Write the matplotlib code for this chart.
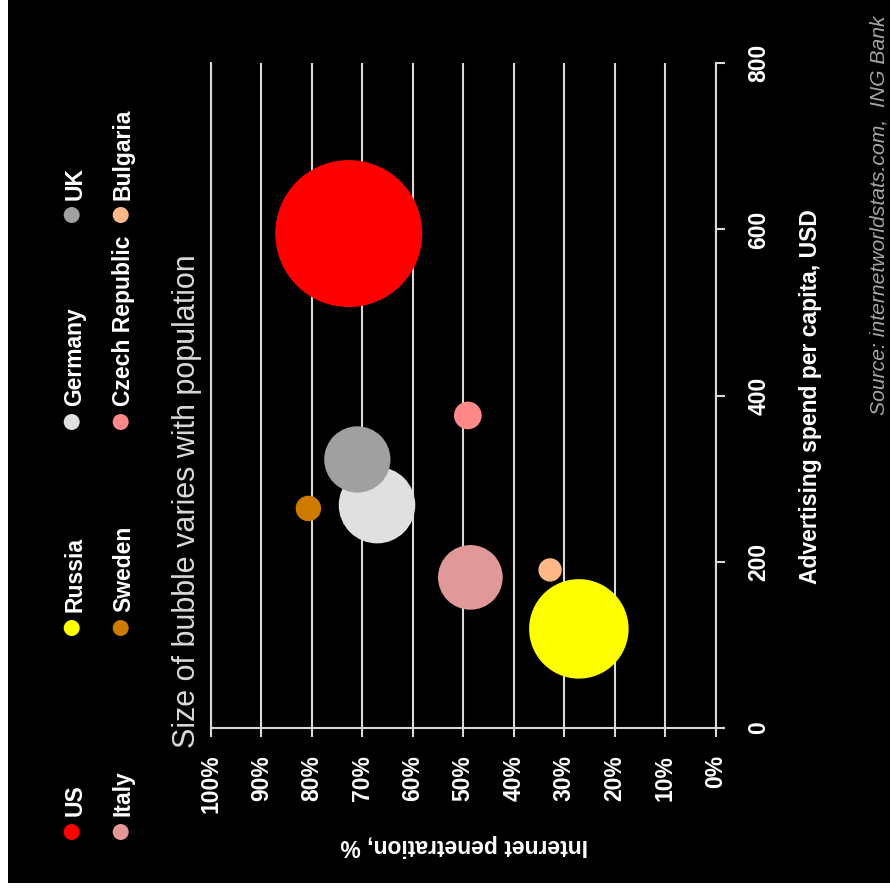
import matplotlib
matplotlib.use('Agg')
import matplotlib.pyplot as plt
from matplotlib.patches import Rectangle

plt.rcParams['font.family'] = ['Liberation Sans', 'DejaVu Sans']

# ---- data ----
countries = ['US', 'Russia', 'Germany', 'UK', 'Italy', 'Sweden', 'Czech Republic', 'Bulgaria']
penetration = [72.7, 27.1, 67.1, 71.0, 48.6, 80.7, 49.1, 32.8]      # Internet penetration, %
ad_spend = [595, 119, 268, 323, 181, 264, 376, 190]                 # Advertising spend per capita, USD
population = [310, 142, 84, 63, 60, 9.3, 11, 7.8]                  # millions (bubble area)
colors = ['#FF0000', '#FFFF00', '#E0E0E0', '#A0A0A0', '#E09898', '#CC7A00', '#FF8888', '#FFB888']
pen_ticks = list(range(0, 101, 10))
pen_labels = [f'{v}%' for v in pen_ticks]
spend_ticks = [0, 200, 400, 600, 800]
spend_labels = [str(v) for v in spend_ticks]

W, H = 890, 891
fig = plt.figure(figsize=(W / 100, H / 100), dpi=100, facecolor='white')

# background / annotation layer in pixel coordinates
bg = fig.add_axes([0, 0, 1, 1], zorder=0)
bg.set_xlim(0, W)
bg.set_ylim(H, 0)
bg.axis('off')
bg.add_patch(Rectangle((8, 0), W - 8, 883, facecolor='black', edgecolor='none'))

# main axes
ax_l, ax_r, ax_t, ax_b = 211, 715.6, 63.3, 727.7
ax = fig.add_axes([ax_l / W, 1 - ax_b / H, (ax_r - ax_l) / W, (ax_b - ax_t) / H], zorder=1)
ax.set_facecolor('none')
ax.set_xlim(100, 0)
ax.set_ylim(0, 800)

grid_c = '#D9D9D9'
ax.set_axisbelow(True)
ax.set_xticks(pen_ticks)
ax.set_xticklabels(pen_labels, rotation=90, fontweight='bold', ha='center', va='top')
ax.grid(axis='x', color=grid_c, lw=1.5)
ax.grid(axis='y', visible=False)
ax.tick_params(axis='x', direction='out', length=6.5, width=1.5, color=grid_c,
               pad=13, labelcolor='white', labelsize=16.5)

ax.yaxis.tick_right()
ax.set_yticks(spend_ticks)
ax.set_yticklabels(spend_labels, rotation=90, fontweight='bold', ha='left', va='center')
ax.tick_params(axis='y', direction='out', length=6.5, width=1.5, color=grid_c,
               pad=16.5, labelcolor='white', labelsize=16.5)

for side in ['left', 'right', 'bottom']:
    ax.spines[side].set_color(grid_c)
    ax.spines[side].set_linewidth(1.5)
ax.spines['top'].set_visible(False)

# bubbles: area proportional to population
size_per_million = (147 * 0.72) ** 2 / 310
ax.scatter(penetration, ad_spend, s=[p * size_per_million for p in population],
           c=colors, edgecolors='none', zorder=3, clip_on=False)

# axis titles and texts
bg.text(463.7, 846, 'Internet penetration, %', rotation=180, ha='center', va='center',
        color='white', fontsize=16.5, fontweight='bold')
bg.text(811, 396.5, 'Advertising spend per capita, USD', rotation=90, ha='center', va='center',
        color='white', fontsize=16.5, fontweight='bold')
bg.text(187, 501, 'Size of bubble varies with population', rotation=90, ha='center', va='center',
        color='#D9D9D9', fontsize=22)
bg.text(878.7, 15, 'Source: internetworldstats.com,  ING Bank', rotation=90, ha='center', va='top',
        color='#A6A6A6', fontsize=15.2, style='italic')

# legend (2 rows x 4 columns, rotated)
row_x = [71.7, 120.7]
text_x = [75, 123.4]
col_y = [832, 628, 422, 215]
for i, (name, col) in enumerate(zip(countries, colors)):
    r, c = divmod(i, 4)
    bg.scatter([row_x[r]], [col_y[c]], s=(16 * 0.72) ** 2, color=col, edgecolors='none')
    bg.text(text_x[r], col_y[c] - 15.5, name, rotation=90, ha='center', va='bottom',
            color='white', fontsize=16.5, fontweight='bold')

fig.savefig('out.png', dpi=100, facecolor=fig.get_facecolor())
